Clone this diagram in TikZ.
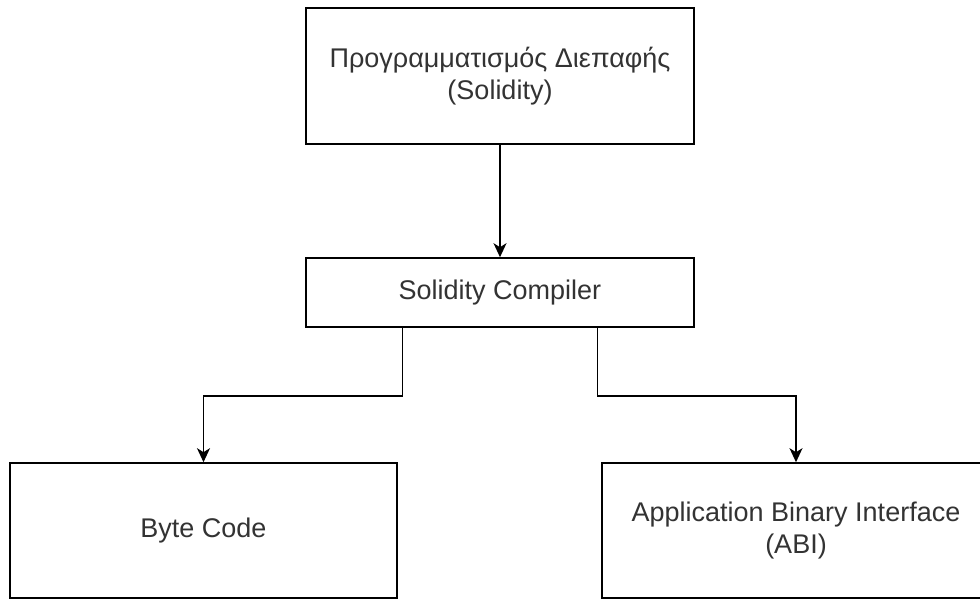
\documentclass[tikz,border=0pt]{standalone}
\usepackage{fontspec}
\setmainfont{Liberation Sans}
\usetikzlibrary{arrows.meta,calc}
\definecolor{txt}{HTML}{333333}
\tikzset{
  box/.style={draw=black, line width=1.6pt, fill=white, rectangle, inner sep=0pt,
    text=txt, align=center, font=\fontsize{27}{32}\selectfont},
  conn/.style={draw=black, line width=1.6pt, -{Stealth[length=14pt,width=13pt,inset=4pt]}}
}
\begin{document}
\begin{tikzpicture}[x=1pt,y=-1pt]
  \useasboundingbox (0,0) rectangle (980,599);
  \clip (0,0) rectangle (980,599);
  \fill[white] (0,0) rectangle (980,599);

  % source and compiler
  \node[box, minimum width=388pt, minimum height=136pt] (src) at (500,76)
    {Προγραμματισμός Διεπαφής\\(Solidity)};
  \node[box, minimum width=388pt, minimum height=69pt] (comp) at (500,292.5)
    {Solidity Compiler};

  % compiler outputs
  \node[box, minimum width=387pt, minimum height=135pt] (bc) at (203.5,530.5)
    {Byte Code};
  \node[box, minimum width=388pt, minimum height=135pt] (abi) at (796,530.5)
    {Application Binary Interface\\(ABI)};

  % connectors
  \draw[conn] (src.south) -- (comp.north);
  \coordinate (outL) at ($(comp.south west)!0.25!(comp.south east)$);
  \coordinate (outR) at ($(comp.south west)!0.75!(comp.south east)$);
  \draw[conn] (outL) -- ++(0,68) -| (bc.north);
  \draw[conn] (outR) -- ++(0,68) -| (abi.north);
\end{tikzpicture}
\end{document}
